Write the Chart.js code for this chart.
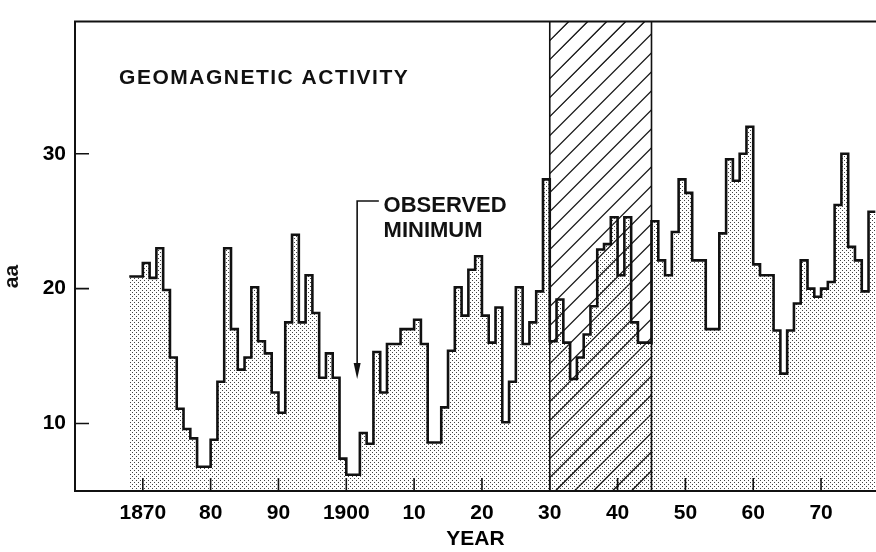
<!DOCTYPE html>
<html>
<head>
<meta charset="utf-8">
<script src="https://cdn.jsdelivr.net/npm/chart.js@4.4.1/dist/chart.umd.min.js"></script>
<style>
  html, body { margin: 0; padding: 0; background: #fff; }
</style>
</head>
<body>
<canvas id="aaChart" width="876" height="552"></canvas>
<script>
// Yearly geomagnetic aa index (one value per year from 1868)
const firstYear = 1868;
const aaValues = [
  20.9, 20.9, 21.9, 20.8, 23.0, 19.9, 14.9, 11.1, 9.6, 8.9,   // 1868-1877
  6.8, 6.8, 8.8, 13.1, 23.0, 17.0, 14.0, 14.9, 20.1, 16.1,    // 1878-1887
  15.2, 12.3, 10.8, 17.5, 24.0, 17.5, 21.0, 18.2, 13.4, 15.2, // 1888-1897
  13.4, 7.4, 6.2, 6.2, 9.3, 8.5, 15.3, 12.3, 15.9, 15.9,      // 1898-1907
  17.0, 17.0, 17.7, 15.9, 8.6, 8.6, 11.2, 15.4, 20.1, 18.0,   // 1908-1917
  21.4, 22.4, 18.0, 16.0, 18.6, 10.1, 13.1, 20.1, 15.9, 17.5, // 1918-1927
  19.8, 28.1, 16.1, 19.2, 16.0, 13.3, 14.9, 16.6, 18.7, 22.9, // 1928-1937
  23.3, 25.3, 21.0, 25.3, 17.5, 16.0, 16.0, 25.0, 22.1, 21.0, // 1938-1947
  24.2, 28.1, 27.1, 22.1, 22.1, 17.0, 17.0, 24.1, 29.6, 28.0, // 1948-1957
  30.0, 32.0, 21.8, 21.0, 21.0, 16.9, 13.7, 16.9, 18.9, 22.1, // 1958-1967
  20.0, 19.4, 20.0, 20.5, 26.2, 30.0, 23.1, 22.1, 19.8, 25.7  // 1968-1977
];

// Hatched period
const hatchStart = 1930;
const hatchEnd = 1945;

// Axis ticks
const xTickYears = [1870, 1880, 1890, 1900, 1910, 1920, 1930, 1940, 1950, 1960, 1970];
const xTickLabels = ['1870', '80', '90', '1900', '10', '20', '30', '40', '50', '60', '70'];
const yTickValues = [10, 20, 30];

const fontFamily = '"Liberation Sans", Arial, Helvetica, sans-serif';

// step outline: each value holds for its whole year
const points = aaValues.map((v, i) => ({ x: firstYear + i, y: v }));
points.push({ x: firstYear + aaValues.length, y: aaValues[aaValues.length - 1] });

function makeStipple() {
  const c = document.createElement('canvas');
  c.width = 4;
  c.height = 4;
  const g = c.getContext('2d');
  g.fillStyle = '#444';
  g.fillRect(0, 0, 1, 1);
  g.fillRect(2, 2, 1, 1);
  return g.createPattern(c, 'repeat');
}

const framePlugin = {
  id: 'frame',
  beforeDatasetsDraw(chart) {
    const { ctx, chartArea: a, scales: { x } } = chart;
    const x0 = x.getPixelForValue(hatchStart);
    const x1 = x.getPixelForValue(hatchEnd);
    const h = a.bottom - a.top;
    ctx.save();
    ctx.beginPath();
    ctx.rect(x0, a.top, x1 - x0, h);
    ctx.clip();
    ctx.beginPath();
    ctx.strokeStyle = '#111';
    ctx.lineWidth = 1.4;
    for (let k = x0 - h; k < x1; k += 19) {
      ctx.moveTo(k, a.bottom);
      ctx.lineTo(k + h, a.top);
    }
    ctx.stroke();
    ctx.restore();
  },
  afterDatasetsDraw(chart) {
    const { ctx, chartArea: a, scales: { x, y } } = chart;
    ctx.save();
    ctx.strokeStyle = '#111';
    ctx.fillStyle = '#111';

    // hatch borders
    ctx.lineWidth = 1.6;
    ctx.beginPath();
    [hatchStart, hatchEnd].forEach(yr => {
      const px = x.getPixelForValue(yr);
      ctx.moveTo(px, a.top);
      ctx.lineTo(px, a.bottom);
    });
    ctx.stroke();

    // frame: left, bottom, top (right side runs off the page)
    ctx.lineWidth = 2;
    ctx.beginPath();
    ctx.moveTo(a.right, a.top);
    ctx.lineTo(a.left, a.top);
    ctx.lineTo(a.left, a.bottom);
    ctx.lineTo(a.right, a.bottom);
    ctx.stroke();

    // inward ticks
    ctx.lineWidth = 1.6;
    ctx.beginPath();
    yTickValues.forEach(v => {
      const py = y.getPixelForValue(v);
      ctx.moveTo(a.left, py);
      ctx.lineTo(a.left + 14, py);
    });
    xTickYears.forEach(yr => {
      const px = x.getPixelForValue(yr);
      ctx.moveTo(px, a.bottom);
      ctx.lineTo(px, a.bottom - 13);
    });
    ctx.stroke();

    // labels inside the plot
    ctx.textBaseline = 'alphabetic';
    ctx.textAlign = 'left';
    ctx.font = 'bold 21px ' + fontFamily;
    ctx.letterSpacing = '1.5px';
    ctx.fillText('GEOMAGNETIC ACTIVITY', x.getPixelForValue(1866.5), y.getPixelForValue(35.2));
    ctx.font = 'bold 22px ' + fontFamily;
    ctx.letterSpacing = '0px';
    ctx.fillText('OBSERVED', x.getPixelForValue(1905.5), y.getPixelForValue(25.7));
    ctx.fillText('MINIMUM', x.getPixelForValue(1905.5), y.getPixelForValue(23.8));

    // arrow to the observed minimum
    const ax = x.getPixelForValue(1901.6);
    const ayTop = y.getPixelForValue(26.5);
    const ayTip = y.getPixelForValue(13.3);
    ctx.lineWidth = 1.6;
    ctx.beginPath();
    ctx.moveTo(x.getPixelForValue(1904.8), ayTop);
    ctx.lineTo(ax, ayTop);
    ctx.lineTo(ax, ayTip - 10);
    ctx.stroke();
    ctx.beginPath();
    ctx.moveTo(ax, ayTip);
    ctx.lineTo(ax - 3.5, ayTip - 16);
    ctx.lineTo(ax + 3.5, ayTip - 16);
    ctx.closePath();
    ctx.fill();

    // y-axis name, turned on its side
    ctx.font = 'bold 21px ' + fontFamily;
    ctx.textAlign = 'center';
    ctx.textBaseline = 'middle';
    ctx.translate(12, y.getPixelForValue(20.9));
    ctx.rotate(-Math.PI / 2);
    ctx.fillText('aa', 0, 0);
    ctx.restore();
  }
};

const ctx = document.getElementById('aaChart').getContext('2d');
new Chart(ctx, {
  type: 'line',
  data: {
    datasets: [{
      data: points,
      stepped: true,
      borderColor: '#111',
      borderWidth: 2.6,
      pointRadius: 0,
      fill: 'start',
      backgroundColor: makeStipple()
    }]
  },
  options: {
    responsive: false,
    animation: false,
    devicePixelRatio: 1,
    layout: { padding: { top: 12, right: 0, left: 0, bottom: 0 } },
    plugins: {
      legend: { display: false },
      tooltip: { enabled: false }
    },
    scales: {
      x: {
        type: 'linear',
        min: 1860,
        max: 1978.1,
        grid: { display: false, drawTicks: false },
        border: { display: false },
        afterBuildTicks: scale => {
          scale.ticks = xTickYears.map(v => ({ value: v }));
        },
        afterFit: scale => { scale.height = 61; },
        ticks: {
          color: '#000',
          padding: 10,
          maxRotation: 0,
          font: { family: fontFamily, size: 21, weight: 'bold' },
          callback: (value) => xTickLabels[xTickYears.indexOf(value)]
        },
        title: {
          display: true,
          text: 'YEAR',
          color: '#000',
          padding: { top: 4, bottom: 0 },
          font: { family: fontFamily, size: 21, weight: 'bold' }
        }
      },
      y: {
        min: 5,
        max: 39.8,
        grid: { display: false, drawTicks: false },
        border: { display: false },
        afterBuildTicks: scale => {
          scale.ticks = yTickValues.map(v => ({ value: v }));
        },
        afterFit: scale => { scale.width = 75; },
        ticks: {
          color: '#000',
          padding: 9,
          font: { family: fontFamily, size: 21, weight: 'bold' }
        }
      }
    }
  },
  plugins: [framePlugin]
});
</script>
</body>
</html>
